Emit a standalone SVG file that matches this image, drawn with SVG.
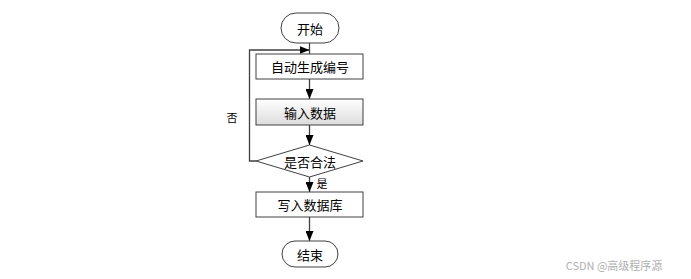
<svg xmlns="http://www.w3.org/2000/svg" width="691" height="279" viewBox="0 0 691 279">
<style>
.shape{fill:#ffffff;stroke:#404040;stroke-width:1}
.lbl{font-family:"Noto Sans CJK SC","Liberation Sans",sans-serif;font-size:13px;fill:#000;text-anchor:middle;dominant-baseline:central}
.small{font-family:"Noto Sans CJK SC","Liberation Sans",sans-serif;font-size:11px;fill:#000;text-anchor:middle;dominant-baseline:central}
.conn{fill:none;stroke:#404040;stroke-width:1.3}
</style>
<defs>
<linearGradient id="g" x1="0" y1="0" x2="0" y2="1">
<stop offset="0" stop-color="#ffffff"/>
<stop offset="1" stop-color="#dcdcdc"/>
</linearGradient>
<marker id="arr" viewBox="0 0 10 8" refX="10" refY="4" markerWidth="10" markerHeight="8" markerUnits="userSpaceOnUse" orient="auto">
<path d="M0,0 L10,4 L0,8 Z" fill="#000"/>
</marker>
</defs>
<rect width="691" height="279" fill="#ffffff"/>
<g id="connectors">
<line class="conn" x1="309.5" y1="43" x2="309.5" y2="54"/>
<line class="conn" x1="309.5" y1="79" x2="309.5" y2="99" marker-end="url(#arr)"/>
<line class="conn" x1="309.5" y1="125" x2="309.5" y2="145" marker-end="url(#arr)"/>
<line class="conn" x1="309.5" y1="177" x2="309.5" y2="192" marker-end="url(#arr)"/>
<line class="conn" x1="309.5" y1="217" x2="309.5" y2="241" marker-end="url(#arr)"/>
<polyline class="conn" points="256,161 249.5,161 249.5,50 309.5,50" marker-end="url(#arr)"/>
<text class="small" x="232" y="117">否</text>
<text class="small" x="322" y="183">是</text>
</g>
<g id="start">
<rect class="shape" x="281" y="13" width="58" height="30" rx="15" ry="15"/>
<text class="lbl" x="310" y="28">开始</text>
</g>
<g id="autonum">
<rect class="shape" x="256" y="54" width="107" height="25"/>
<text class="lbl" x="310" y="66.5">自动生成编号</text>
</g>
<g id="input">
<rect class="shape" x="256" y="99" width="107" height="26" fill="url(#g)" style="fill:url(#g)"/>
<text class="lbl" x="310" y="112">输入数据</text>
</g>
<g id="decision">
<polygon class="shape" points="256,161 309.5,145 363,161 309.5,177"/>
<text class="lbl" x="310" y="161">是否合法</text>
</g>
<g id="write">
<rect class="shape" x="256" y="192" width="107" height="25"/>
<text class="lbl" x="310" y="204.5">写入数据库</text>
</g>
<g id="end">
<rect class="shape" x="282" y="241" width="56" height="26" rx="13" ry="13"/>
<text class="lbl" x="310" y="254">结束</text>
</g>
<text x="614" y="265" font-family="Noto Sans CJK SC,Liberation Sans,sans-serif" font-size="11" fill="#b0b0b0" text-anchor="middle" dominant-baseline="central">CSDN @高级程序源</text>
</svg>
